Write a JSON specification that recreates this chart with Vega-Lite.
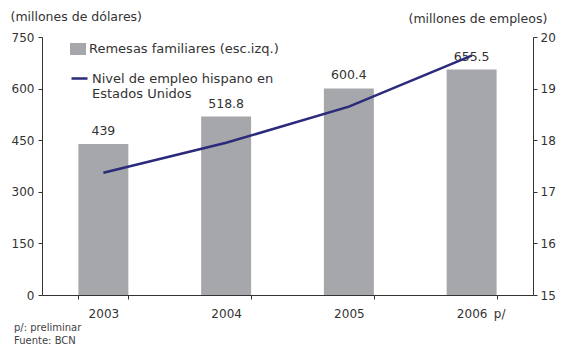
{
  "$schema": "https://vega.github.io/schema/vega-lite/v6.json",
  "width": 491,
  "height": 258,
  "autosize": {"type": "none"},
  "padding": {"left": 42, "top": 37, "right": 36, "bottom": 52},
  "background": "white",
  "config": {
    "font": "DejaVu Sans",
    "view": {"stroke": null},
    "axis": {
      "labelFont": "DejaVu Sans",
      "labelColor": "#333333",
      "labelFontSize": 12,
      "domainColor": "#333333",
      "tickColor": "#333333",
      "grid": false,
      "titleFont": "DejaVu Sans",
      "titleFontWeight": "normal",
      "titleColor": "#333333",
      "titleFontSize": 12
    },
    "legend": {"labelFont": "DejaVu Sans", "labelColor": "#333333", "labelFontSize": 13, "padding": 0, "labelLimit": 400}
  },
  "title": {
    "text": ["p/: preliminar", "Fuente: BCN"],
    "orient": "bottom",
    "anchor": "start",
    "frame": "group",
    "fontSize": 10,
    "font": "DejaVu Sans",
    "fontWeight": "normal",
    "color": "#444444",
    "lineHeight": 13,
    "dx": -28,
    "offset": 3
  },
  "data": {
    "values": [
      {"year": "2003", "remesas": 439, "empleo": 17.37, "label": "439"},
      {"year": "2004", "remesas": 518.8, "empleo": 17.95, "label": "518.8"},
      {"year": "2005", "remesas": 600.4, "empleo": 18.65, "label": "600.4"},
      {"year": "2006", "remesas": 655.5, "empleo": 19.64, "label": "655.5"}
    ]
  },
  "encoding": {
    "x": {
      "field": "year",
      "type": "ordinal",
      "scale": {"paddingInner": 0.593, "paddingOuter": 0.2965},
      "axis": {"title": null, "labelAngle": 0, "tickBand": "extent", "tickSize": 4, "labelPadding": 9}
    }
  },
  "layer": [
    {
      "layer": [
        {
          "mark": {"type": "bar"},
          "encoding": {
            "y": {
              "field": "remesas",
              "type": "quantitative",
              "scale": {"domain": [0, 750], "nice": false},
              "axis": {
                "values": [0, 150, 300, 450, 600, 750],
                "tickSize": 4,
                "labelPadding": 4,
                "title": "(millones de dólares)",
                "titleAngle": 0,
                "titleAlign": "left",
                "titleBaseline": "middle",
                "titleX": -32,
                "titleY": -21,
                "titleFontSize": 12.5
              }
            },
            "fill": {
              "datum": "Remesas familiares (esc.izq.)",
              "type": "nominal",
              "scale": {"range": ["#A5A7AA"]},
              "legend": {
                "title": null,
                "orient": "none",
                "legendX": 28,
                "legendY": 4,
                "symbolType": "M-1,-0.75H1V0.75H-1Z",
                "symbolSize": 256,
                "symbolStrokeWidth": 0,
                "labelOffset": 3
              }
            }
          }
        },
        {
          "mark": {"type": "text", "dy": -13, "fontSize": 12.5, "color": "#333333", "baseline": "middle"},
          "encoding": {
            "y": {"field": "remesas", "type": "quantitative", "scale": {"domain": [0, 750], "nice": false}},
            "text": {"field": "label"}
          }
        },
        {
          "data": {"values": [{"year": "2006", "note": "p/"}]},
          "mark": {"type": "text", "dy": 19, "dx": 28, "fontSize": 12, "color": "#333333", "baseline": "middle"},
          "encoding": {
            "y": {"datum": 0, "type": "quantitative", "scale": {"domain": [0, 750], "nice": false}},
            "text": {"field": "note"}
          }
        }
      ]
    },
    {
      "mark": {"type": "line", "color": "#2B2A7B", "strokeWidth": 2.5},
      "encoding": {
        "y": {
          "field": "empleo",
          "type": "quantitative",
          "scale": {"domain": [15, 20], "nice": false},
          "axis": {
            "orient": "right",
            "values": [15, 16, 17, 18, 19, 20],
            "tickSize": 4,
            "labelPadding": 3,
            "title": "(millones de empleos)",
            "titleAngle": 0,
            "titleAlign": "left",
            "titleBaseline": "middle",
            "titleX": -125,
            "titleY": -19,
            "titleFontSize": 12.5
          }
        },
        "stroke": {
          "datum": "Nivel de empleo hispano en Estados Unidos",
          "type": "nominal",
          "scale": {"range": ["#2B2A7B"]},
          "legend": {
            "title": null,
            "orient": "none",
            "legendX": 28,
            "legendY": 32,
            "symbolType": "stroke",
            "symbolSize": 256,
            "symbolStrokeWidth": 2.5,
            "labelOffset": 3,
            "labelExpr": "['Nivel de empleo hispano en', 'Estados Unidos']"
          }
        }
      }
    }
  ],
  "resolve": {"scale": {"y": "independent"}}
}
